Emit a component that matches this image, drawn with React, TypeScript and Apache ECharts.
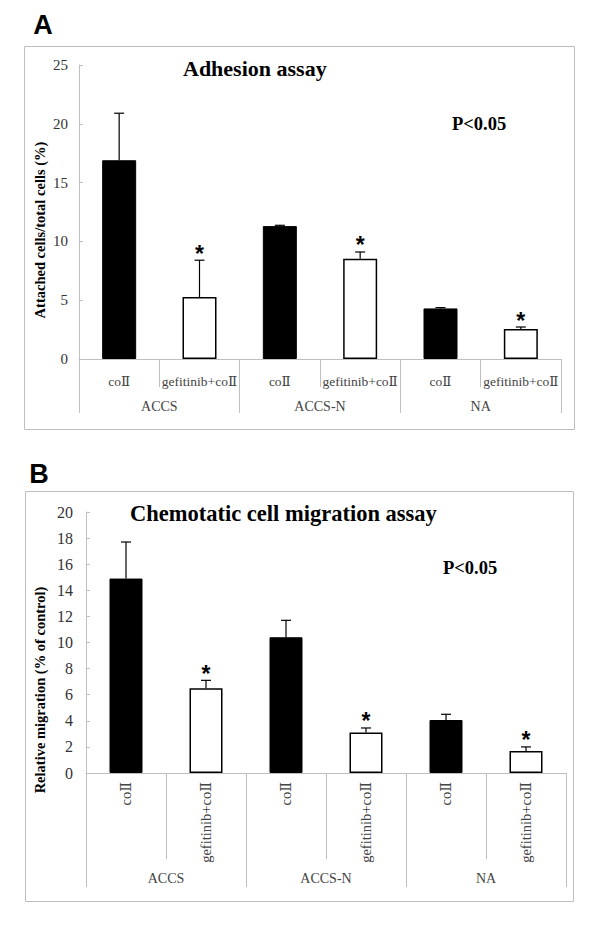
import React, { useEffect, useRef } from "react";
import * as echarts from "echarts";

const categories = ["coⅡ", "gefitinib+coⅡ", "coⅡ", "gefitinib+coⅡ", "coⅡ", "gefitinib+coⅡ"];
const groups = ["ACCS", "ACCS-N", "NA"];
const isTreated = [false, true, false, true, false, true];

const adhesionValues = [16.9, 5.27, 11.3, 8.53, 4.3, 2.55];
const adhesionErrTop = [20.9, 8.4, 11.37, 9.1, 4.37, 2.72];
const adhesionStar = [0, 1, 0, 1, 0, 1];

const migrationValues = [14.9, 6.5, 10.4, 3.1, 4.06, 1.68];
const migrationErrTop = [17.7, 7.1, 11.7, 3.45, 4.5, 2.0];
const migrationStar = [0, 1, 0, 1, 0, 1];

const adhesionTicks = { min: 0, max: 25, interval: 5 };
const migrationTicks = { min: 0, max: 20, interval: 2 };

const SERIF = "'Liberation Serif', 'DejaVu Serif', serif";
const SANS = "'Liberation Sans', Arial, sans-serif";
const GRAY = "#bfbfbf";

function barData(values: number[]) {
  return values.map((v, i) => ({
    value: v,
    itemStyle: isTreated[i]
      ? { color: "#ffffff", borderColor: "#000", borderWidth: 1.5 }
      : { color: "#000000", borderColor: "#000", borderWidth: 1 },
  }));
}

function errData(values: number[], tops: number[], stars: number[]) {
  return values.map((v, i) => [i, v, tops[i], stars[i]]);
}

function renderErr(params: any, api: any) {
  const x = api.value(0);
  const v = api.value(1);
  const e = api.value(2);
  const s = api.value(3);
  const p0 = api.coord([x, v]);
  const p1 = api.coord([x, e]);
  const style = { stroke: "#000", lineWidth: 1.2 };
  const children: any[] = [
    { type: "line", shape: { x1: p0[0], y1: p0[1], x2: p1[0], y2: p1[1] }, style },
    { type: "line", shape: { x1: p1[0] - 5, y1: p1[1], x2: p1[0] + 5, y2: p1[1] }, style },
  ];
  if (s) {
    children.push({
      type: "text",
      x: p1[0],
      y: p1[1] + 5,
      style: {
        text: "*",
        fill: "#000",
        font: `bold 23px ${SANS}`,
        align: "center",
        verticalAlign: "bottom",
      },
    });
  }
  return { type: "group", children };
}

export default function App() {
  const ref = useRef<HTMLDivElement>(null);
  useEffect(() => {
    if (!ref.current) return;
    const chart = echarts.init(ref.current, null, { renderer: "svg" });
    const catAxisCommon = {
      type: "category",
      position: "bottom",
      offset: 0,
      axisLine: { show: true, lineStyle: { color: GRAY, width: 1 } },
      axisTick: { show: true, interval: 0, alignWithLabel: false, lineStyle: { color: GRAY } },
      axisLabel: { interval: 0, color: "#444", fontFamily: SERIF },
    };
    const groupAxisCommon = {
      type: "category",
      position: "bottom",
      offset: 0,
      axisLine: { show: false },
      axisTick: { show: true, interval: 0, alignWithLabel: false, lineStyle: { color: GRAY } },
      axisLabel: { interval: 0, color: "#444", fontFamily: SERIF, fontSize: 14 },
    };
    const yCommon = {
      type: "value",
      axisLine: { show: true, lineStyle: { color: GRAY } },
      axisTick: { show: true, inside: true, length: 4, lineStyle: { color: GRAY } },
      splitLine: { show: false },
    };
    chart.setOption({
      animation: false,
      grid: [
        { left: 79, top: 65, width: 482, height: 294 },
        { left: 86, top: 512, width: 480, height: 261 },
      ],
      xAxis: [
        {
          ...catAxisCommon,
          gridIndex: 0,
          data: categories,
          axisTick: { ...catAxisCommon.axisTick, length: 28 },
          axisLabel: { ...catAxisCommon.axisLabel, fontSize: 13.5, margin: 15 },
        },
        {
          ...groupAxisCommon,
          gridIndex: 0,
          data: groups,
          axisTick: { ...groupAxisCommon.axisTick, length: 54 },
          axisLabel: { ...groupAxisCommon.axisLabel, margin: 40 },
        },
        {
          ...catAxisCommon,
          gridIndex: 1,
          data: categories,
          axisTick: { ...catAxisCommon.axisTick, length: 86 },
          axisLabel: { ...catAxisCommon.axisLabel, fontSize: 14.5, margin: 9, rotate: 90 },
        },
        {
          ...groupAxisCommon,
          gridIndex: 1,
          data: groups,
          axisTick: { ...groupAxisCommon.axisTick, length: 114 },
          axisLabel: { ...groupAxisCommon.axisLabel, margin: 98 },
        },
      ],
      yAxis: [
        {
          ...yCommon,
          gridIndex: 0,
          ...adhesionTicks,
          axisLabel: { color: "#333", fontFamily: SERIF, fontSize: 15, margin: 11 },
        },
        {
          ...yCommon,
          gridIndex: 1,
          ...migrationTicks,
          axisLabel: { color: "#333", fontFamily: SERIF, fontSize: 16, margin: 13 },
        },
      ],
      series: [
        {
          type: "bar",
          xAxisIndex: 0,
          yAxisIndex: 0,
          barWidth: 34,
          data: barData(adhesionValues),
        },
        {
          type: "custom",
          xAxisIndex: 0,
          yAxisIndex: 0,
          renderItem: renderErr,
          data: errData(adhesionValues, adhesionErrTop, adhesionStar),
          z: 5,
        },
        {
          type: "bar",
          xAxisIndex: 2,
          yAxisIndex: 1,
          barWidth: 33,
          data: barData(migrationValues),
        },
        {
          type: "custom",
          xAxisIndex: 2,
          yAxisIndex: 1,
          renderItem: renderErr,
          data: errData(migrationValues, migrationErrTop, migrationStar),
          z: 5,
        },
      ],
      graphic: [
        { type: "rect", shape: { x: 24.5, y: 46.5, width: 550, height: 383 }, style: { fill: "none", stroke: GRAY, lineWidth: 1 } },
        { type: "rect", shape: { x: 25.5, y: 491.5, width: 548, height: 410 }, style: { fill: "none", stroke: GRAY, lineWidth: 1 } },
        { type: "text", x: 43, y: 25, style: { text: "A", font: `bold 27px ${SANS}`, fill: "#000", align: "center", verticalAlign: "middle" } },
        { type: "text", x: 39, y: 474, style: { text: "B", font: `bold 27px ${SANS}`, fill: "#000", align: "center", verticalAlign: "middle" } },
        { type: "text", x: 183, y: 68, style: { text: "Adhesion assay", font: `bold 22px ${SERIF}`, fill: "#000", align: "left", verticalAlign: "middle" } },
        { type: "text", x: 130, y: 513, style: { text: "Chemotatic cell migration assay", font: `bold 22.5px ${SERIF}`, fill: "#000", align: "left", verticalAlign: "middle" } },
        { type: "text", x: 452, y: 124, style: { text: "P<0.05", font: `bold 18.5px ${SERIF}`, fill: "#000", align: "left", verticalAlign: "middle" } },
        { type: "text", x: 443, y: 568, style: { text: "P<0.05", font: `bold 18.5px ${SERIF}`, fill: "#000", align: "left", verticalAlign: "middle" } },
        { type: "text", x: 40, y: 230, rotation: Math.PI / 2, style: { text: "Attached cells/total cells (%)", font: `bold 14.5px ${SERIF}`, fill: "#000", align: "center", verticalAlign: "middle" } },
        { type: "text", x: 40, y: 690, rotation: Math.PI / 2, style: { text: "Relative migration (% of control)", font: `bold 14.5px ${SERIF}`, fill: "#000", align: "center", verticalAlign: "middle" } },
      ],
    });
    return () => chart.dispose();
  }, []);
  return <div ref={ref} style={{ position: "absolute", left: 0, top: 0, width: 600, height: 927 }} />;
}
